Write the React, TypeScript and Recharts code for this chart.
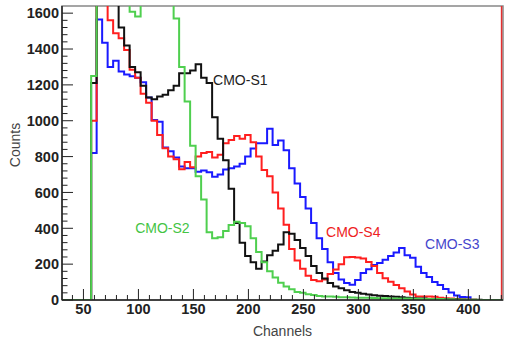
import React from 'react'
import { LineChart, Line, XAxis, YAxis, ReferenceLine, ReferenceDot, ReferenceArea } from 'recharts'

// Histogram bins (left edges, channel units), 5 channels wide
const binWidth = 5
const binEdges = [
  57, 62, 67, 72, 77, 82, 87, 92, 97, 102, 107, 112, 117, 122, 127, 132, 137, 142, 147, 152,
  157, 162, 167, 172, 177, 182, 187, 192, 197, 202, 207, 212, 217, 222, 227, 232, 237, 242, 247, 252,
  257, 262, 267, 272, 277, 282, 287, 292, 297, 302, 307, 312, 317, 322, 327, 332, 337, 342, 347, 352,
  357, 362, 367, 372, 377, 382, 387, 392, 397, 402, 407,
]

// Counts per bin for each crystal
const cmoS1 = [
  1210, 2400, 2300, 2100, 1800, 1520, 1420, 1300, 1270, 1195, 1130, 1120, 1135, 1145, 1170, 1195, 1265, 1265, 1280, 1315,
  1240, 1210, 1020, 900, 780, 620, 430, 320, 245, 210, 175, 215, 250, 275, 310, 378, 370, 335, 290, 245,
  190, 150, 120, 95, 75, 65, 55, 45, 40, 35, 30, 27, 24, 22, 20, 18, 15, 12, 10, 8,
  8, 6, 5, 5, 4, 3, 3, 2, 2, 1, 1,
]
const cmoS2 = [
  1250, 2800, 2900, 2700, 2500, 2200, 1800, 1608, 1582, 1900, 2100, 2000, 1900, 1800, 1700, 1570, 1300, 1107, 860, 690,
  560, 378, 344, 350, 385, 418, 437, 430, 412, 345, 268, 210, 160, 125, 96, 76, 60, 45, 40, 32,
  28, 22, 20, 20, 18, 16, 15, 14, 13, 12, 12, 11, 10, 10, 9, 9, 8, 8, 7, 7,
  6, 6, 5, 5, 4, 4, 3, 3, 2, 1, 0,
]
const cmoS3 = [
  820, 1565, 1435, 1300, 1335, 1275, 1258, 1248, 1240, 1215, 1130, 1004, 995, 850, 830, 795, 745, 735, 735, 716,
  722, 712, 688, 700, 728, 735, 744, 760, 800, 845, 874, 874, 955, 865, 890, 835, 735, 650, 575, 510,
  430, 345, 285, 210, 150, 115, 95, 85, 112, 150, 172, 195, 206, 225, 245, 265, 290, 250, 235, 185,
  150, 128, 100, 84, 62, 42, 25, 17, 15, 0, 0,
]
const cmoS4 = [
  1000, 2500, 2000, 1560, 1488, 1460, 1395, 1285, 1240, 1150, 1100, 1000, 920, 846, 800, 785, 730, 770, 740, 800,
  820, 825, 795, 810, 875, 893, 915, 900, 920, 880, 800, 725, 690, 600, 510, 420, 285, 220, 175, 135,
  112, 104, 115, 145, 170, 200, 238, 240, 237, 232, 212, 190, 150, 122, 102, 84, 65, 48, 30, 20,
  20, 20, 18, 12, 10, 8, 5, 4, 2, 1, 0,
]

const xTicks = [40, 50, 60, 70, 80, 90, 100, 110, 120, 130, 140, 150, 160, 170, 180, 190, 200, 210, 220, 230,
  240, 250, 260, 270, 280, 290, 300, 310, 320, 330, 340, 350, 360, 370, 380, 390, 400, 410, 420, 430]
const yTicks = [0, 40, 80, 120, 160, 200, 240, 280, 320, 360, 400, 440, 480, 520, 560, 600, 640, 680, 720, 760,
  800, 840, 880, 920, 960, 1000, 1040, 1080, 1120, 1160, 1200, 1240, 1280, 1320, 1360, 1400, 1440, 1480, 1520, 1560, 1600]

const X_MIN = 30.5
const X_MAX = 431.5
const Y_MAX = 1640

const zeros = { s1: 0, s2: 0, s3: 0, s4: 0 }
const lastEdge = binEdges[binEdges.length - 1] + binWidth
const histData = [
  { ch: X_MIN, ...zeros },
  ...binEdges.map((ch, i) => ({ ch, s1: cmoS1[i], s2: cmoS2[i], s3: cmoS3[i], s4: cmoS4[i] })),
  { ch: lastEdge, ...zeros },
  { ch: X_MAX, ...zeros },
]

const labelFont = 'Liberation Sans, Arial, Helvetica, sans-serif'

const XTick = ({ x, y, payload }: any) => {
  const major = payload.value % 50 === 0
  return (
    <g>
      <line x1={x} y1={y} x2={x} y2={y - (major ? 11 : 5)} stroke="#222" strokeWidth={1} />
      {major && (
        <text x={x} y={y + 14} textAnchor="middle" fontFamily={labelFont} fontWeight="bold" fontSize={14.5} fill="#222">
          {payload.value}
        </text>
      )}
    </g>
  )
}

const YTick = ({ x, y, payload }: any) => {
  const major = payload.value % 200 === 0
  return (
    <g>
      <line x1={x} y1={y} x2={x + (major ? 11 : 5.5)} y2={y} stroke="#222" strokeWidth={1} />
      {major && (
        <text x={x - 3} y={y} dy="0.36em" textAnchor="end" fontFamily={labelFont} fontWeight="bold" fontSize={14.5} fill="#222">
          {payload.value}
        </text>
      )}
    </g>
  )
}

const tagLabel = (text: string, color: string) => ({ viewBox }: any) => (
  <text x={viewBox.x} y={viewBox.y} dy="0.36em" fontFamily={labelFont} fontSize={14} fill={color}>
    {text}
  </text>
)

export default function App() {
  return (
    <div style={{ position: 'absolute', left: 0, top: 0, width: 508, height: 341, background: '#fff' }}>
      <LineChart width={508} height={341} data={histData} margin={{ top: 6, right: 5, bottom: 0, left: 0 }}>
        <ReferenceArea x1={X_MIN} x2={X_MAX} y1={0} y2={Y_MAX} fill="none" stroke="#888" strokeWidth={1.5} />
        <XAxis
          dataKey="ch"
          type="number"
          domain={[X_MIN, X_MAX]}
          allowDataOverflow
          ticks={xTicks}
          interval={0}
          tick={<XTick />}
          tickLine={false}
          tickSize={0}
          tickMargin={0}
          height={41}
          axisLine={{ stroke: '#222', strokeWidth: 1.5 }}
          label={({ viewBox }: any) => (
            <text x={viewBox.x + viewBox.width / 2} y={viewBox.y + 36} textAnchor="middle" fontFamily={labelFont} fontSize={14} fill="#444">
              Channels
            </text>
          )}
        />
        <YAxis
          type="number"
          domain={[0, Y_MAX]}
          allowDataOverflow
          ticks={yTicks}
          interval={0}
          tick={<YTick />}
          tickLine={false}
          tickSize={0}
          tickMargin={0}
          width={62}
          axisLine={{ stroke: '#222', strokeWidth: 1.5 }}
          label={({ viewBox }: any) => (
            <text
              x={viewBox.x + 19.5}
              y={viewBox.y + viewBox.height / 2 - 8}
              textAnchor="middle"
              transform={`rotate(-90 ${viewBox.x + 19.5} ${viewBox.y + viewBox.height / 2 - 8})`}
              fontFamily={labelFont}
              fontSize={14}
              fill="#444"
            >
              Counts
            </text>
          )}
        />
        <ReferenceLine x={430.2} stroke="#e53030" strokeWidth={1.5} />
        <Line dataKey="s3" type="stepAfter" stroke="#1a1aff" strokeWidth={2} dot={false} isAnimationActive={false} />
        <Line dataKey="s4" type="stepAfter" stroke="#ff1f1f" strokeWidth={2} dot={false} isAnimationActive={false} />
        <Line dataKey="s1" type="stepAfter" stroke="#111111" strokeWidth={2} dot={false} isAnimationActive={false} />
        <Line dataKey="s2" type="stepAfter" stroke="#4fcf4f" strokeWidth={2} dot={false} isAnimationActive={false} />
        <ReferenceDot x={167.9} y={1228} r={0} fill="none" stroke="none" label={tagLabel('CMO-S1', '#222')} />
        <ReferenceDot x={97} y={402} r={0} fill="none" stroke="none" label={tagLabel('CMO-S2', '#44c444')} />
        <ReferenceDot x={270.6} y={379} r={0} fill="none" stroke="none" label={tagLabel('CMO-S4', '#ee2222')} />
        <ReferenceDot x={360.6} y={312} r={0} fill="none" stroke="none" label={tagLabel('CMO-S3', '#4545cc')} />
      </LineChart>
    </div>
  )
}
